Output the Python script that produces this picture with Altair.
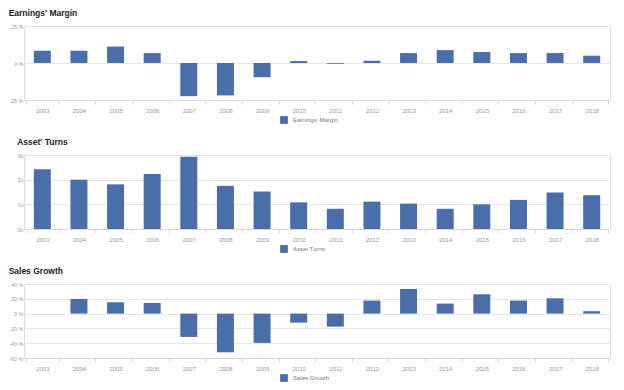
import altair as alt
import pandas as pd

years = [str(y) for y in range(2003, 2019)]
earnings_margin = [8.3, 8.3, 11.1, 6.7, -22.4, -21.9, -9.6, 1.3, -0.5, 1.5, 6.7, 8.7, 7.4, 6.7, 6.7, 4.9]
asset_turns = [2.42, 2.0, 1.81, 2.23, 2.93, 1.75, 1.52, 1.08, 0.82, 1.11, 1.03, 0.82, 1.0, 1.18, 1.48, 1.37]
sales_growth = [None, 19.8, 15.3, 14.4, -31.5, -52.3, -39.6, -12.2, -17.6, 17.6, 33.3, 13.5, 26.1, 17.6, 20.7, 3.2]

BLUE = "#4a6eaa"
W, H = 586, 74
LABEL_COLOR = "#9a9a9a"
GRID = "#e6e6e6"


def panel(title, legend_name, values, domain, ticks, label_expr):
    df = pd.DataFrame({"year": years, "value": values, "series": legend_name})
    df = df.dropna()
    return (
        alt.Chart(df, title=alt.TitleParams(title, anchor="start", fontSize=8.5,
                                            fontWeight="bold", color="#222222",
                                            font="Liberation Sans", offset=7))
        .mark_bar(size=17, color=BLUE)
        .encode(
            x=alt.X("year:N", scale=alt.Scale(domain=years), title=None,
                    axis=alt.Axis(labelAngle=0, tickBand="extent", tickSize=4,
                                  tickColor="#d8d8d8", domainColor="#d8d8d8",
                                  labelColor=LABEL_COLOR, labelFontSize=6,
                                  labelPadding=3, grid=False)),
            y=alt.Y("value:Q", scale=alt.Scale(domain=domain, nice=False, zero=False),
                    title=None,
                    axis=alt.Axis(values=ticks, labelExpr=label_expr, domain=False,
                                  ticks=False, labelColor=LABEL_COLOR, labelFontSize=5.5,
                                  labelPadding=1, gridColor=GRID)),
            color=alt.Color("series:N", scale=alt.Scale(range=[BLUE]),
                            legend=alt.Legend(title=None, orient="none",
                                              legendX=255, legendY=H + 15,
                                              symbolType="square", symbolSize=60,
                                              labelFontSize=6, labelColor="#777777")),
        )
        .properties(width=W, height=H)
    )


c1 = panel("Earnings' Margin", "Earnings' Margin", earnings_margin, [-25, 25],
           [-25, 0, 25], "datum.value + ' %'")
c2 = panel("Asset' Turns", "Asset Turns", asset_turns, [0, 3],
           [0, 1, 2, 3], "datum.value + 'x'")
c3 = panel("Sales Growth", "Sales Growth", sales_growth, [-60, 40],
           [-60, -40, -20, 0, 20, 40], "datum.value + ' %'")

chart = (
    alt.vconcat(c1, c2, c3, spacing=12)
    .resolve_scale(color="independent")
    .resolve_legend(color="independent")
    .properties(padding=0)
    .configure_view(stroke=None)
    .configure(font="Liberation Sans")
)

chart.save("out.html", embed_options={"renderer": "svg", "actions": False})
